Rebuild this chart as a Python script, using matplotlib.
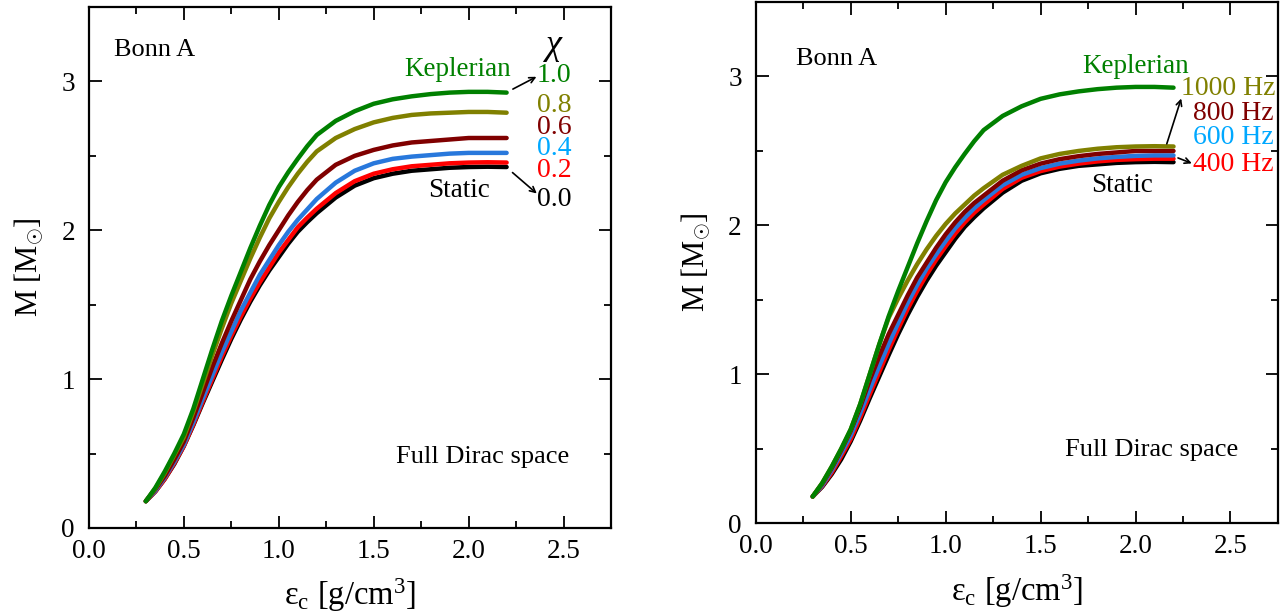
import numpy as np
import matplotlib
matplotlib.use('Agg')
import matplotlib.pyplot as plt
from matplotlib.ticker import MultipleLocator

plt.rcParams['font.family'] = ['Liberation Serif', 'DejaVu Serif']
plt.rcParams['mathtext.fontset'] = 'custom'
plt.rcParams['mathtext.rm'] = 'Liberation Serif'
plt.rcParams['mathtext.it'] = 'Liberation Serif:italic'

# central energy density grid
eps = [0.3, 0.35, 0.4, 0.45, 0.5, 0.55, 0.6, 0.65, 0.7, 0.75, 0.8, 0.85,
       0.9, 0.95, 1.0, 1.05, 1.1, 1.15, 1.2, 1.3, 1.4, 1.5, 1.6, 1.7,
       1.8, 1.9, 2.0, 2.1, 2.2]

# left panel: fixed chi
m_static = [0.18, 0.245, 0.33, 0.43, 0.55, 0.69, 0.84, 0.985, 1.13, 1.27,
            1.40, 1.52, 1.63, 1.73, 1.82, 1.91, 1.99, 2.055, 2.115, 2.22,
            2.30, 2.35, 2.38, 2.40, 2.41, 2.42, 2.425, 2.427, 2.425]
m_chi02 = [0.18, 0.245, 0.33, 0.435, 0.55, 0.695, 0.85, 1.00, 1.15, 1.29,
           1.42, 1.54, 1.65, 1.75, 1.85, 1.935, 2.02, 2.085, 2.145, 2.25,
           2.33, 2.38, 2.41, 2.43, 2.44, 2.45, 2.455, 2.457, 2.455]
m_chi04 = [0.18, 0.25, 0.34, 0.445, 0.56, 0.71, 0.87, 1.025, 1.18, 1.32,
           1.46, 1.58, 1.70, 1.80, 1.90, 1.99, 2.07, 2.14, 2.21, 2.32,
           2.40, 2.45, 2.48, 2.495, 2.505, 2.515, 2.52, 2.52, 2.52]
m_chi06 = [0.18, 0.26, 0.35, 0.46, 0.58, 0.74, 0.91, 1.08, 1.24, 1.39,
           1.53, 1.67, 1.79, 1.90, 2.00, 2.10, 2.19, 2.27, 2.34, 2.44,
           2.50, 2.54, 2.57, 2.59, 2.60, 2.61, 2.62, 2.62, 2.62]
m_chi08 = [0.18, 0.265, 0.37, 0.49, 0.61, 0.78, 0.97, 1.16, 1.34, 1.51,
           1.66, 1.81, 1.95, 2.08, 2.19, 2.29, 2.38, 2.46, 2.53, 2.62,
           2.68, 2.725, 2.755, 2.775, 2.785, 2.79, 2.795, 2.795, 2.79]
m_kepler = [0.18, 0.27, 0.38, 0.50, 0.63, 0.80, 1.00, 1.20, 1.39, 1.56,
            1.72, 1.88, 2.03, 2.17, 2.29, 2.39, 2.48, 2.565, 2.64, 2.735,
            2.80, 2.85, 2.88, 2.90, 2.915, 2.925, 2.93, 2.93, 2.925]

# right panel: fixed frequency
m_f400 = [0.18, 0.25, 0.34, 0.45, 0.565, 0.71, 0.865, 1.015, 1.165, 1.305,
          1.44, 1.56, 1.67, 1.77, 1.86, 1.945, 2.02, 2.085, 2.14, 2.245,
          2.32, 2.365, 2.395, 2.415, 2.43, 2.44, 2.445, 2.448, 2.448]
m_f600 = [0.18, 0.255, 0.355, 0.47, 0.59, 0.74, 0.90, 1.055, 1.205, 1.345,
          1.48, 1.60, 1.71, 1.805, 1.895, 1.98, 2.05, 2.115, 2.17, 2.27,
          2.34, 2.385, 2.415, 2.435, 2.45, 2.46, 2.467, 2.47, 2.47]
m_f800 = [0.18, 0.265, 0.37, 0.49, 0.62, 0.78, 0.96, 1.12, 1.27, 1.40,
          1.53, 1.65, 1.75, 1.85, 1.94, 2.02, 2.09, 2.15, 2.20, 2.30,
          2.37, 2.415, 2.445, 2.465, 2.48, 2.49, 2.50, 2.50, 2.50]
m_f1000 = [0.18, 0.27, 0.38, 0.50, 0.63, 0.80, 1.00, 1.20, 1.38, 1.51,
           1.63, 1.74, 1.84, 1.93, 2.01, 2.08, 2.14, 2.20, 2.25, 2.34,
           2.40, 2.45, 2.48, 2.50, 2.515, 2.525, 2.53, 2.532, 2.53]

chi_labels = ['1.0', '0.8', '0.6', '0.4', '0.2', '0.0']
chi_label_y = [3.04, 2.84, 2.69, 2.55, 2.40, 2.21]
freq_labels = ['1000 Hz', '800 Hz', '600 Hz', '400 Hz']
freq_label_y = [2.92, 2.75, 2.59, 2.41]

c_green = '#008000'
c_olive = '#808000'
c_dred = '#800000'
c_blue = '#2878DC'
c_blue_txt = '#00A8FF'
c_red = '#FF0000'

fig = plt.figure(figsize=(12.84, 6.16), dpi=100)
ax1 = fig.add_axes([0.0692, 0.1429, 0.4067, 0.8457])
ax2 = fig.add_axes([0.5886, 0.1505, 0.4067, 0.8462])

lw = 3.2


def style_axes(ax):
    ax.set_xlim(0, 2.75)
    ax.set_ylim(0, 3.5)
    ax.xaxis.set_major_locator(MultipleLocator(0.5))
    ax.xaxis.set_minor_locator(MultipleLocator(0.25))
    ax.yaxis.set_major_locator(MultipleLocator(1))
    ax.yaxis.set_minor_locator(MultipleLocator(0.5))
    ax.tick_params(which='both', direction='in', top=True, right=True, width=1.3)
    ax.tick_params(which='major', length=9)
    ax.tick_params(which='minor', length=5)
    ax.tick_params(axis='x', pad=8, labelsize=19.5)
    ax.tick_params(axis='y', pad=10, labelsize=19.5)
    ax.xaxis.set_major_formatter(plt.FuncFormatter(lambda v, p: '%.1f' % v))
    ax.yaxis.set_major_formatter(plt.FuncFormatter(lambda v, p: '%d' % v))
    for s in ax.spines.values():
        s.set_linewidth(1.6)
    ax.set_xlabel(r'$\mathrm{\epsilon_c}$ [g/cm$^3$]', fontsize=23.5, labelpad=9)
    ax.set_ylabel(r'M [M$_{\odot}$]', fontsize=22, labelpad=11)


# left panel
for m, c in [(m_static, 'black'), (m_chi02, c_red), (m_chi04, c_blue),
             (m_chi06, c_dred), (m_chi08, c_olive), (m_kepler, c_green)]:
    ax1.plot(eps, m, color=c, lw=lw, solid_capstyle='round')
style_axes(ax1)
ax1.text(0.13, 3.21, 'Bonn A', fontsize=19, va='center')
ax1.text(1.62, 0.48, 'Full Dirac space', fontsize=19, va='center')
ax1.text(1.94, 3.08, 'Keplerian', fontsize=19.5, color=c_green, ha='center', va='center')
ax1.text(1.95, 2.27, 'Static', fontsize=19.5, color='black', ha='center', va='center')
ax1.text(2.45, 3.23, r'$\chi$', fontsize=26, ha='center', va='center')
for lab, y, c in zip(chi_labels, chi_label_y,
                     [c_green, c_olive, c_dred, c_blue_txt, c_red, 'black']):
    ax1.text(2.36, y, lab, fontsize=20, color=c, va='center')
ax1.annotate('', xy=(2.37, 3.04), xytext=(2.22, 2.94),
             arrowprops=dict(arrowstyle='->', color='black', lw=1.2))
ax1.annotate('', xy=(2.37, 2.235), xytext=(2.22, 2.40),
             arrowprops=dict(arrowstyle='->', color='black', lw=1.2))

# right panel
for m, c in [(m_static, 'black'), (m_f400, c_red), (m_f600, c_blue),
             (m_f800, c_dred), (m_f1000, c_olive), (m_kepler, c_green)]:
    ax2.plot(eps, m, color=c, lw=lw, solid_capstyle='round')
style_axes(ax2)
ax2.text(0.21, 3.12, 'Bonn A', fontsize=19, va='center')
ax2.text(1.63, 0.49, 'Full Dirac space', fontsize=19, va='center')
ax2.text(2.0, 3.07, 'Keplerian', fontsize=19.5, color=c_green, ha='center', va='center')
ax2.text(1.93, 2.27, 'Static', fontsize=19.5, color='black', ha='center', va='center')
for lab, y, c, xl in zip(freq_labels, freq_label_y,
                         [c_olive, c_dred, c_blue_txt, c_red],
                         [2.24, 2.30, 2.30, 2.30]):
    ax2.text(xl, y, lab, fontsize=20, color=c, va='center')
ax2.annotate('', xy=(2.245, 2.87), xytext=(2.16, 2.53),
             arrowprops=dict(arrowstyle='->', color='black', lw=1.2))
ax2.annotate('', xy=(2.31, 2.41), xytext=(2.21, 2.46),
             arrowprops=dict(arrowstyle='->', color='black', lw=1.2))

fig.savefig('out.png', dpi=100)
